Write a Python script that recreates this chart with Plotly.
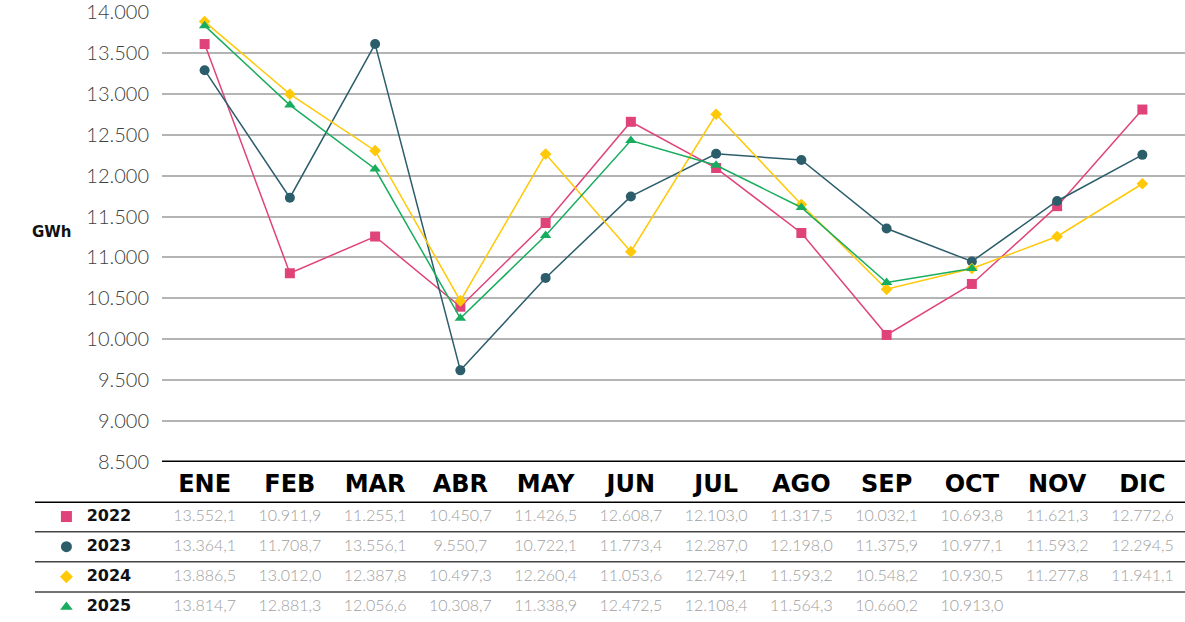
import plotly.graph_objects as go

months = ["ENE", "FEB", "MAR", "ABR", "MAY", "JUN", "JUL", "AGO", "SEP", "OCT", "NOV", "DIC"]
years = ["2022", "2023", "2024", "2025"]

plot_2022 = [13608, 10807, 11256, 10398, 11421, 12658, 12093, 11299, 10053, 10676, 11627, 12808]
plot_2023 = [13289, 11730, 13608, 9620, 10750, 11746, 12267, 12191, 11354, 10951, 11690, 12254]
plot_2024 = [13883, 12996, 12305, 10469, 12263, 11071, 12750, 11647, 10611, 10865, 11256, 11901]
plot_2025 = [13833, 12862, 12081, 10257, 11268, 12428, 12127, 11611, 10693, 10865]

# values printed in the table
table_2022 = [13552.1, 10911.9, 11255.1, 10450.7, 11426.5, 12608.7, 12103.0, 11317.5, 10032.1, 10693.8, 11621.3, 12772.6]
table_2023 = [13364.1, 11708.7, 13556.1, 9550.7, 10722.1, 11773.4, 12287.0, 12198.0, 11375.9, 10977.1, 11593.2, 12294.5]
table_2024 = [13886.5, 13012.0, 12387.8, 10497.3, 12260.4, 11053.6, 12749.1, 11593.2, 10548.2, 10930.5, 11277.8, 11941.1]
table_2025 = [13814.7, 12881.3, 12056.6, 10308.7, 11338.9, 12472.5, 12108.4, 11564.3, 10660.2, 10913.0]

y_ticks = list(range(8500, 14001, 500))

COLORS = {"2022": "#E04379", "2023": "#2C5D6B", "2024": "#FFC907", "2025": "#18AD5E"}
SYMBOLS = {"2022": "square", "2023": "circle", "2024": "diamond", "2025": "triangle-up"}
SIZES = {"2022": 10, "2023": 10, "2024": 9, "2025": 10}
TABLE_SIZES = {"2022": 11, "2023": 11, "2024": 10, "2025": 11}

FONT = "Lato, Open Sans, sans-serif"
BOLD_FONT = "DejaVu Sans, sans-serif"

W, H = 1185, 622
LEFT = 162


def fmt_es(v):
    s = f"{v:,.1f}"
    return s.replace(",", "X").replace(".", ",").replace("X", ".")


fig = go.Figure()

plot_series = {"2022": plot_2022, "2023": plot_2023, "2024": plot_2024, "2025": plot_2025}
table_series = {"2022": table_2022, "2023": table_2023, "2024": table_2024, "2025": table_2025}

for yr in years:
    vals = plot_series[yr]
    fig.add_trace(
        go.Scatter(
            x=months[: len(vals)],
            y=vals,
            mode="lines+markers",
            name=yr,
            line=dict(color=COLORS[yr], width=1.5),
            marker=dict(symbol=SYMBOLS[yr], size=SIZES[yr], color=COLORS[yr], line=dict(width=0)),
            xaxis="x",
            yaxis="y",
            cliponaxis=False,
        )
    )

# table values, sharing the month axis
for yr in years:
    vals = table_series[yr]
    fig.add_trace(
        go.Scatter(
            x=months[: len(vals)],
            y=[yr] * len(vals),
            mode="text",
            text=[fmt_es(v) for v in vals],
            textfont=dict(family=FONT, size=16, color="#a0a0a0", weight=300),
            textposition="middle center",
            xaxis="x",
            yaxis="y2",
            showlegend=False,
            hoverinfo="skip",
            cliponaxis=False,
        )
    )

# marker + year column
fig.add_trace(
    go.Scatter(
        x=[0.41] * len(years),
        y=years,
        mode="markers",
        marker=dict(
            symbol=[SYMBOLS[y] for y in years],
            size=[TABLE_SIZES[y] for y in years],
            color=[COLORS[y] for y in years],
            opacity=1,
            line=dict(width=0),
        ),
        xaxis="x2",
        yaxis="y2",
        showlegend=False,
        cliponaxis=False,
    )
)
fig.add_trace(
    go.Scatter(
        x=[0.81] * len(years),
        y=years,
        mode="text",
        text=years,
        textposition="middle left",
        textfont=dict(family=BOLD_FONT, size=16, color="#111111", weight="bold"),
        xaxis="x2",
        yaxis="y2",
        showlegend=False,
        cliponaxis=False,
    )
)

shapes = [
    # x axis baseline
    dict(type="line", xref="paper", yref="y", x0=LEFT / W, x1=1, y0=8500, y1=8500,
         line=dict(color="#000000", width=3)),
    # table top rule
    dict(type="line", xref="paper", yref="y2", x0=35 / W, x1=1, y0=3.5, y1=3.5,
         line=dict(color="#000000", width=3)),
]
for b in [2.5, 1.5, 0.5]:
    shapes.append(dict(type="line", xref="paper", yref="y2", x0=35 / W, x1=1, y0=b, y1=b,
                       line=dict(color="#444444", width=1.5)))

fig.update_layout(
    width=W,
    height=H,
    margin=dict(l=0, r=0, t=0, b=0, pad=0, autoexpand=False),
    plot_bgcolor="rgba(0,0,0,0)",
    paper_bgcolor="white",
    separators=",.",
    showlegend=False,
    hovermode="closest",
    font=dict(family=FONT, color="#333333"),
    xaxis=dict(
        domain=[LEFT / W, 1],
        type="category",
        categoryorder="array",
        categoryarray=months,
        range=[-0.5, 11.5],
        showgrid=False,
        showline=False,
        zeroline=False,
        ticks="",
        tickfont=dict(family=BOLD_FONT, size=24, color="#000000", weight="bold"),
        ticklabelstandoff=5,
        automargin=False,
        anchor="y",
    ),
    yaxis=dict(
        domain=[1 - 462 / H, 1 - 12 / H],
        range=[8500, 14000],
        tickvals=y_ticks,
        tickformat=",d",
        tickfont=dict(family=FONT, size=20, color="#404040", weight=300),
        ticklabelstandoff=12,
        ticklabeloverflow="allow",
        showgrid=True,
        gridcolor="#b4b4b4",
        gridwidth=1.5,
        zeroline=False,
        showline=False,
        automargin=False,
        anchor="x",
    ),
    xaxis2=dict(domain=[0, LEFT / W], range=[0, 1], visible=False, anchor="y2", automargin=False),
    yaxis2=dict(
        domain=[0, 1 - 501.5 / H],
        type="category",
        categoryorder="array",
        categoryarray=years[::-1],
        range=[-0.5, 3.5],
        visible=False,
        anchor="x2",
        automargin=False,
    ),
    shapes=shapes,
    annotations=[
        dict(text="<b>GWh</b>", xref="paper", yref="paper", x=30 / W, y=1 - 232 / H,
             showarrow=False, font=dict(family=BOLD_FONT, size=15, color="#111111")),
    ],
)

# drop the browser's default body margin so the figure sits at the page corner
fig.write_html(
    "out.html",
    config={"displayModeBar": False},
    post_script="document.body.style.margin='0px';",
)
